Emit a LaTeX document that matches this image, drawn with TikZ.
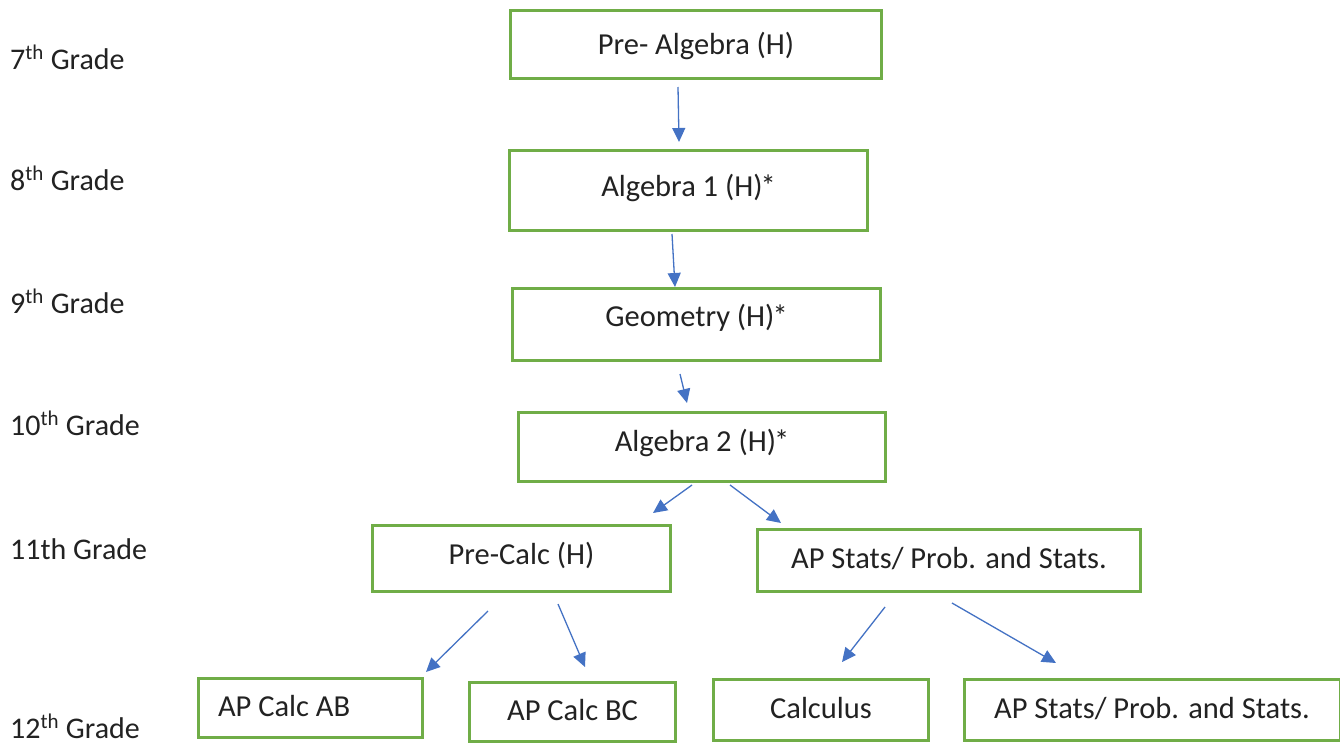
\documentclass[tikz,border=0pt]{standalone}
\usepackage{fontspec}
\setmainfont{Carlito}
\usetikzlibrary{arrows.meta}
\definecolor{boxgreen}{HTML}{70AD47}
\definecolor{arrblue}{HTML}{4472C4}
\definecolor{txt}{HTML}{222222}
\newcommand{\honstar}{\kern-2pt*}
\tikzset{
  course/.style={draw=boxgreen, line width=3pt, fill=white, text=txt,
    inner sep=0pt, text height=20pt, text depth=0pt,
    font=\fontsize{30.5}{34}\selectfont},
  grade/.style={anchor=base west, inner sep=0pt, text=txt,
    font=\fontsize{30}{34}\selectfont},
  arr/.style={draw=arrblue, line width=1.3pt,
    -{Triangle[length=14pt,width=13pt]}}
}
\begin{document}
\begin{tikzpicture}[x=1pt,y=-1pt]
\useasboundingbox (0,0) rectangle (1340,744);
\fill[white] (0,0) rectangle (1340,744);
% grade labels
\node[grade] (g7)  at (10,69)  {7\textsuperscript{th} Grade};
\node[grade] (g8)  at (10,190) {8\textsuperscript{th} Grade};
\node[grade] (g9)  at (10,313) {9\textsuperscript{th} Grade};
\node[grade] (g10) at (10,435) {10\textsuperscript{th} Grade};
\node[grade] (g11) at (10,559) {11th Grade};
\node[grade] (g12) at (10,738) {12\textsuperscript{th} Grade};
% course boxes
\node[course, minimum width=371pt, minimum height=68pt] (pa) at (696,44.5) {Pre- Algebra (H)};
\node[course, minimum width=358pt, minimum height=80pt, text depth=8pt] (a1) at (688.5,190.5) {Algebra 1 (H)\honstar};
\node[course, minimum width=368pt, minimum height=72pt, text depth=16pt] (geo) at (696.5,324.5) {Geometry (H)\honstar};
\node[course, minimum width=367pt, minimum height=69pt, text depth=12pt] (a2) at (702,447) {Algebra 2 (H)\honstar};
\node[course, minimum width=298pt, minimum height=66pt, text depth=8pt] (pc) at (521.5,558.5) {Pre-Calc (H)};
\node[course, minimum width=383pt, minimum height=62pt, text depth=4pt] (aps) at (949,560.5) {AP Stats/ Prob. and Stats.};
\node[course, minimum width=224pt, minimum height=59pt, text depth=4pt] (ab) at (310.5,708) {\makebox[185pt][l]{AP Calc AB}};
\node[course, minimum width=206pt, minimum height=59pt, text depth=4pt] (bc) at (572.5,712) {AP Calc BC};
\node[course, minimum width=215pt, minimum height=61pt, text depth=4pt] (calc) at (821,710) {Calculus};
\node[course, minimum width=376pt, minimum height=61pt, text depth=4pt] (aps2) at (1152,710) {AP Stats/ Prob. and Stats.};
% arrow end points
\coordinate (s1) at (678,87);  \coordinate (e1) at (679,142);
\coordinate (s2) at (672,234); \coordinate (e2) at (675,287);
\coordinate (s3) at (680,374); \coordinate (e3) at (687,403);
\coordinate (s4) at (692,485); \coordinate (e4) at (653,513);
\coordinate (s5) at (730,485); \coordinate (e5) at (781,523);
\coordinate (s6) at (488,611); \coordinate (e6) at (426,672);
\coordinate (s7) at (558,604); \coordinate (e7) at (585,667);
\coordinate (s8) at (885,607); \coordinate (e8) at (842,662);
\coordinate (s9) at (952,603); \coordinate (e9) at (1056,663);
\draw[arr] (s1) -- (e1);
\draw[arr] (s2) -- (e2);
\draw[arr] (s3) -- (e3);
\draw[arr] (s4) -- (e4);
\draw[arr] (s5) -- (e5);
\draw[arr] (s6) -- (e6);
\draw[arr] (s7) -- (e7);
\draw[arr] (s8) -- (e8);
\draw[arr] (s9) -- (e9);
\end{tikzpicture}
\end{document}
